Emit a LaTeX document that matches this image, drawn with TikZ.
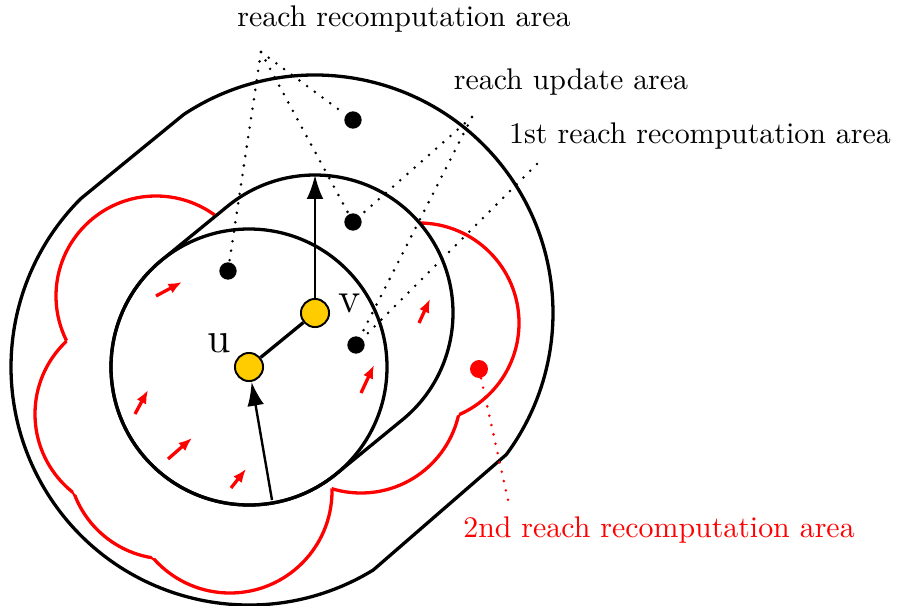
\documentclass[tikz,border=0pt]{standalone}
\usetikzlibrary{calc,arrows.meta}
\definecolor{vyellow}{HTML}{FFCC00}
\begin{document}
\begin{tikzpicture}[x=0.3345pt,y=0.3345pt,
  outline/.style={line width=1.1pt, line join=round},
  redline/.style={draw=red, line width=1.1pt},
  leader/.style={line width=0.95pt, dash pattern=on 0pt off 3.2pt, line cap=round},
  dotnode/.style={circle, fill=black, inner sep=0pt, minimum size=5.8pt},
  reddot/.style={circle, fill=red, inner sep=0pt, minimum size=6pt},
  vertex/.style={circle, draw=black, line width=0.65pt, fill=vyellow, inner sep=0pt, minimum size=9.4pt},
  redarrow/.style={red, line width=1.1pt, -{Latex[length=4.5pt,width=3.6pt]}},
  bigarrow/.style={line width=0.8pt, -{Latex[length=8pt,width=5.6pt]}},
  lbl/.style={font=\normalsize, anchor=base, inner sep=0pt},
  vlbl/.style={font=\Large, inner sep=0pt},
]
\useasboundingbox (0,0) rectangle (898,605);

\coordinate (cu) at (249,238);
\coordinate (cv) at (315,292);

\def\hullpath{($(cu)+(129.3:138)$) -- ($(cv)+(129.3:138)$) arc[start angle=129.3, end angle=-50.7, radius=138] -- ($(cu)+(-50.7:138)$) arc[start angle=-50.7, end angle=-230.7, radius=138] -- cycle}
\def\bigrect{(-20,-20) rectangle (920,625)}
\def\redA{(156,309) circle[radius=100]}
\def\redB{(135,191) circle[radius=100]}
\def\redC{(168,146) circle[radius=100]}
\def\redD{(230,114) circle[radius=102]}
\def\redE{(361,212) circle[radius=100]}
\def\redF{(419,282) circle[radius=100]}

% outer area
\draw[outline] ($(cv)+(123.5:238)$) arc[start angle=123.5, end angle=-36.5, radius=238]
  -- ($(cu)+(-58.5:238)$) arc[start angle=-58.5, end angle=-225, radius=238] -- cycle;

% red outline: boundary of the union of six circles, outside the hull
\begin{scope}[even odd rule]
  \clip \bigrect \hullpath;
  \clip \bigrect \redB;
  \clip \bigrect \redC;
  \clip \bigrect \redD;
  \clip \bigrect \redE;
  \clip \bigrect \redF;
  \draw[redline] \redA;
\end{scope}
\begin{scope}[even odd rule]
  \clip \bigrect \hullpath;
  \clip \bigrect \redA;
  \clip \bigrect \redC;
  \clip \bigrect \redD;
  \clip \bigrect \redE;
  \clip \bigrect \redF;
  \draw[redline] \redB;
\end{scope}
\begin{scope}[even odd rule]
  \clip \bigrect \hullpath;
  \clip \bigrect \redA;
  \clip \bigrect \redB;
  \clip \bigrect \redD;
  \clip \bigrect \redE;
  \clip \bigrect \redF;
  \draw[redline] \redC;
\end{scope}
\begin{scope}[even odd rule]
  \clip \bigrect \hullpath;
  \clip \bigrect \redA;
  \clip \bigrect \redB;
  \clip \bigrect \redC;
  \clip \bigrect \redE;
  \clip \bigrect \redF;
  \draw[redline] \redD;
\end{scope}
\begin{scope}[even odd rule]
  \clip \bigrect \hullpath;
  \clip \bigrect \redA;
  \clip \bigrect \redB;
  \clip \bigrect \redC;
  \clip \bigrect \redD;
  \clip \bigrect \redF;
  \draw[redline] \redE;
\end{scope}
\begin{scope}[even odd rule]
  \clip \bigrect \hullpath;
  \clip \bigrect \redA;
  \clip \bigrect \redB;
  \clip \bigrect \redC;
  \clip \bigrect \redD;
  \clip \bigrect \redE;
  \draw[redline] \redF;
\end{scope}

% middle hull and circle around u
\draw[outline] \hullpath;
\draw[outline] (cu) circle[radius=138];

% nodes
\node[vertex] (u) at (cu) {};
\node[vertex] (v) at (cv) {};
\node[dotnode] (d1) at (353,485) {};
\node[dotnode] (d2) at (353,383) {};
\node[dotnode] (d3) at (228,334) {};
\node[dotnode] (d4) at (356,260) {};
\node[reddot] (rd) at (479,236) {};
\node[vlbl] (lu) at (219,262) {u};
\node[vlbl] (lv) at (350,302) {v};

\node[lbl] (t1) at (404,578) {reach recomputation area};
\node[lbl] (t2) at (571,515) {reach update area};
\node[lbl] (t3) at (700,462) {1st reach recomputation area};
\node[lbl, text=red] (t4) at (659,68) {2nd reach recomputation area};

% leader points
\coordinate (apex) at (261,553);
\coordinate (upd) at (472,488);
\coordinate (first) at (537,441);
\coordinate (redend) at (508,105);

\draw[leader] (apex) -- (d1);
\draw[leader] (apex) -- (d2);
\draw[leader] (apex) -- (d3);
\draw[leader] (upd) -- (d2);
\draw[leader] (upd) -- (d4);
\draw[leader] (first) -- (d4);
\draw[leader, red] (rd) -- (redend);

% edges and arrows
\coordinate (vtop) at (315,430);
\coordinate (ubot) at (272,105);
\draw[line width=1.1pt] (u) -- (v);
\draw[bigarrow] (v) -- (vtop);
\draw[bigarrow] (ubot) -- (u);

\coordinate (a1) at (156,309); \coordinate (a1t) at (182,323);
\coordinate (a2) at (135,191); \coordinate (a2t) at (148,215);
\coordinate (a3) at (168,146); \coordinate (a3t) at (192,167);
\coordinate (a4) at (231,117); \coordinate (a4t) at (246,136);
\coordinate (a5) at (361,212); \coordinate (a5t) at (374,240);
\coordinate (a6) at (419,282); \coordinate (a6t) at (430,306);
\draw[redarrow] (a1) -- (a1t);
\draw[redarrow] (a2) -- (a2t);
\draw[redarrow] (a3) -- (a3t);
\draw[redarrow] (a4) -- (a4t);
\draw[redarrow] (a5) -- (a5t);
\draw[redarrow] (a6) -- (a6t);
\end{tikzpicture}
\end{document}
